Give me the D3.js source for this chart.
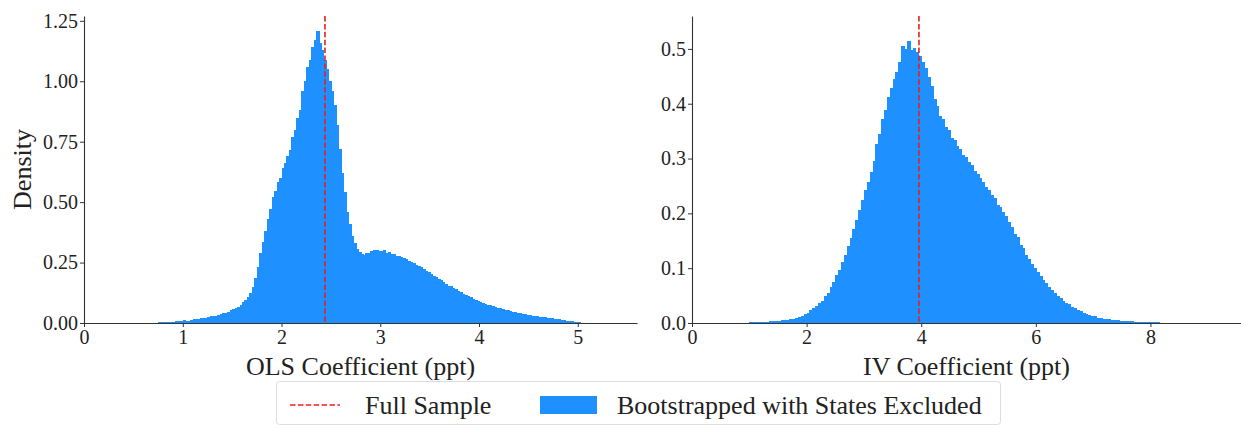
<!DOCTYPE html>
<html><head><meta charset="utf-8">
<script src="https://cdn.jsdelivr.net/npm/d3@7"></script>
<style>
html,body{margin:0;padding:0;background:#fff;}
text{font-family:"Liberation Serif","DejaVu Serif",serif;fill:#222;}
</style></head>
<body><svg id="c" width="1241" height="428"></svg>
<script>
// ---- DATA ----
// OLS bootstrap histogram: first bin starts at olsFirstBin, bins of olsBinWidth
const olsFirstBin = 0.70;
const olsBinWidth = 0.025;
const olsDensity = [
0.002,0.001,0.003,0.003,0.004,0.005,0.006,0.005,0.005,0.007,0.008,0.009,
0.011,0.010,0.010,0.013,0.015,0.016,0.017,0.019,0.022,0.021,0.024,0.027,0.030,0.029,0.033,0.037,0.041,0.043,0.046,0.052,0.058,0.061,0.066,0.076,0.088,0.096,0.108,0.125,
0.150,0.185,0.230,0.290,0.335,0.380,0.430,0.470,0.520,0.545,0.585,0.600,0.640,0.660,0.690,0.715,0.770,0.800,0.850,0.880,
0.960,1.000,1.060,1.090,1.140,1.170,1.210,1.160,1.130,1.090,1.050,1.000,0.960,0.900,0.820,0.720,0.620,0.540,0.460,0.410,
0.360,0.330,0.305,0.295,0.285,0.280,0.290,0.288,0.296,0.300,0.303,0.298,0.296,0.300,0.290,0.292,0.287,0.284,0.279,0.276,
0.273,0.268,0.263,0.258,0.254,0.248,0.242,0.236,0.233,0.224,0.216,0.210,0.204,0.196,0.190,0.182,0.177,0.168,0.163,0.155,
0.151,0.144,0.140,0.132,0.127,0.120,0.115,0.110,0.106,0.100,0.095,0.091,0.088,0.083,0.080,0.076,0.074,0.069,0.066,0.064,
0.062,0.057,0.055,0.052,0.050,0.047,0.045,0.043,0.041,0.038,0.037,0.034,0.033,0.030,0.029,0.027,0.026,0.024,0.023,0.021,
0.020,0.019,0.018,0.016,0.015,0.013,0.012,0.010,0.009,0.007,0.006,0.005,0.003,0.002,0.001,0.001];
const olsFull = 2.44;

// IV bootstrap histogram
const ivFirstBin = 1.00;
const ivBinWidth = 0.05;
const ivDensity = [
0.001,0.001,0.001,0.002,0.002,0.002,0.002,0.003,0.003,0.004,0.004,0.005,0.005,0.006,0.007,0.008,0.010,0.011,0.013,0.016,
0.019,0.023,0.027,0.031,0.036,0.041,0.049,0.055,0.066,0.074,0.087,0.097,0.112,0.124,0.141,0.155,0.172,0.188,0.206,0.224,
0.242,0.258,0.275,0.296,0.326,0.344,0.372,0.388,0.412,0.428,0.445,0.458,0.476,0.505,0.500,0.515,0.498,0.502,0.494,0.487,
0.476,0.465,0.448,0.432,0.408,0.396,0.378,0.372,0.358,0.352,0.338,0.334,0.322,0.318,0.306,0.302,0.293,0.288,0.277,0.271,
0.264,0.258,0.248,0.242,0.233,0.228,0.216,0.211,0.202,0.195,0.184,0.176,0.163,0.156,0.143,0.136,0.124,0.117,0.108,0.101,
0.093,0.086,0.079,0.073,0.066,0.061,0.055,0.050,0.046,0.041,0.037,0.034,0.030,0.027,0.024,0.021,0.019,0.017,0.015,0.013,
0.012,0.010,0.009,0.008,0.007,0.007,0.006,0.005,0.005,0.004,0.004,0.003,0.003,0.003,0.002,0.002,0.002,0.002,0.001,0.001,
0.001,0.001,0.001,0.0008,0.0006,0.0005,0.0004,0.0003];
const ivFull = 3.96;

const olsXTicks = [0,1,2,3,4,5];
const olsYTicks = [0,0.25,0.5,0.75,1.0,1.25];
const olsYTickLabels = ["0.00","0.25","0.50","0.75","1.00","1.25"];
const ivXTicks = [0,2,4,6,8];
const ivYTicks = [0,0.1,0.2,0.3,0.4,0.5];
const ivYTickLabels = ["0.0","0.1","0.2","0.3","0.4","0.5"];

const legendLabels = ["Full Sample","Bootstrapped with States Excluded"];

// ---- DRAW ----
const svg = d3.select("#c");
const BLUE = "#1e90ff", RED = "#e8201c", AX = "#333";

function panel(o){
  const g = svg.append("g");
  const x = d3.scaleLinear().domain(o.xDom).range([o.left,o.right]);
  const y = d3.scaleLinear().domain(o.yDom).range([o.bottom,o.top]);
  const bars = o.vals.map((v,i)=>({s:o.first+i*o.bw,v:v}));
  g.selectAll("rect.bar").data(bars)
    .enter().append("rect").attr("class","bar")
    .attr("x",d=>x(d.s)).attr("width",d=>x(d.s+o.bw)-x(d.s)+1)
    .attr("y",d=>y(d.v)).attr("height",d=>y(0)-y(d.v))
    .attr("fill",BLUE).attr("shape-rendering","crispEdges");
  g.append("line").attr("x1",x(o.full)).attr("x2",x(o.full))
    .attr("y1",y(o.yDom[1])).attr("y2",y(0))
    .attr("stroke",RED).attr("stroke-width",1.6).attr("stroke-dasharray","5.5,2.4");
  const xa = g.append("g").attr("transform","translate(0,"+o.bottom+")")
    .call(d3.axisBottom(x).tickValues(o.xTicks).tickFormat(d=>String(d)).tickSize(4).tickSizeOuter(0).tickPadding(3));
  const ya = g.append("g").attr("transform","translate("+o.left+",0)")
    .call(d3.axisLeft(y).tickValues(o.yTicks).tickFormat((d,i)=>o.yLabels[i]).tickSize(4).tickSizeOuter(0).tickPadding(2));
  [xa,ya].forEach(a=>{
    a.select(".domain").attr("stroke",AX).attr("stroke-width",1.1);
    a.selectAll(".tick line").attr("stroke",AX);
    a.selectAll("text").style("font-family","'Liberation Serif',serif").style("font-size","20px").attr("fill","#333");
  });
  g.append("text").attr("x",(o.left+o.right)/2).attr("y",375).attr("text-anchor","middle")
    .style("font-size","26px").text(o.xlabel);
  if(o.ylabel){
    g.append("text").attr("transform","translate(31,"+((o.bottom+o.top)/2)+") rotate(-90)")
      .attr("text-anchor","middle").style("font-size","26px").text(o.ylabel);
  }
}

panel({xDom:[0,5.6],yDom:[0,1.27],left:84,right:637,bottom:323,top:16,
  first:olsFirstBin,vals:olsDensity,bw:olsBinWidth,full:olsFull,
  xTicks:olsXTicks,yTicks:olsYTicks,yLabels:olsYTickLabels,xlabel:"OLS Coefficient (ppt)",ylabel:"Density"});
panel({xDom:[0,9.58],yDom:[0,0.56],left:692,right:1241,bottom:323,top:16,
  first:ivFirstBin,vals:ivDensity,bw:ivBinWidth,full:ivFull,
  xTicks:ivXTicks,yTicks:ivYTicks,yLabels:ivYTickLabels,xlabel:"IV Coefficient (ppt)"});

const lg = svg.append("g");
lg.append("rect").attr("x",276.5).attr("y",381.5).attr("width",724).attr("height",43).attr("rx",3)
  .attr("fill","#fff").attr("stroke","#ddd").attr("stroke-width",1);
lg.append("line").attr("x1",290).attr("x2",340).attr("y1",405).attr("y2",405)
  .attr("stroke",RED).attr("stroke-width",1.6).attr("stroke-dasharray","5.5,2.4");
lg.append("text").attr("x",365).attr("y",414).style("font-size","26px").text(legendLabels[0]);
lg.append("rect").attr("x",540).attr("y",396).attr("width",57).attr("height",18).attr("fill",BLUE);
lg.append("text").attr("x",617).attr("y",414).style("font-size","26px").text(legendLabels[1]);
</script></body></html>
